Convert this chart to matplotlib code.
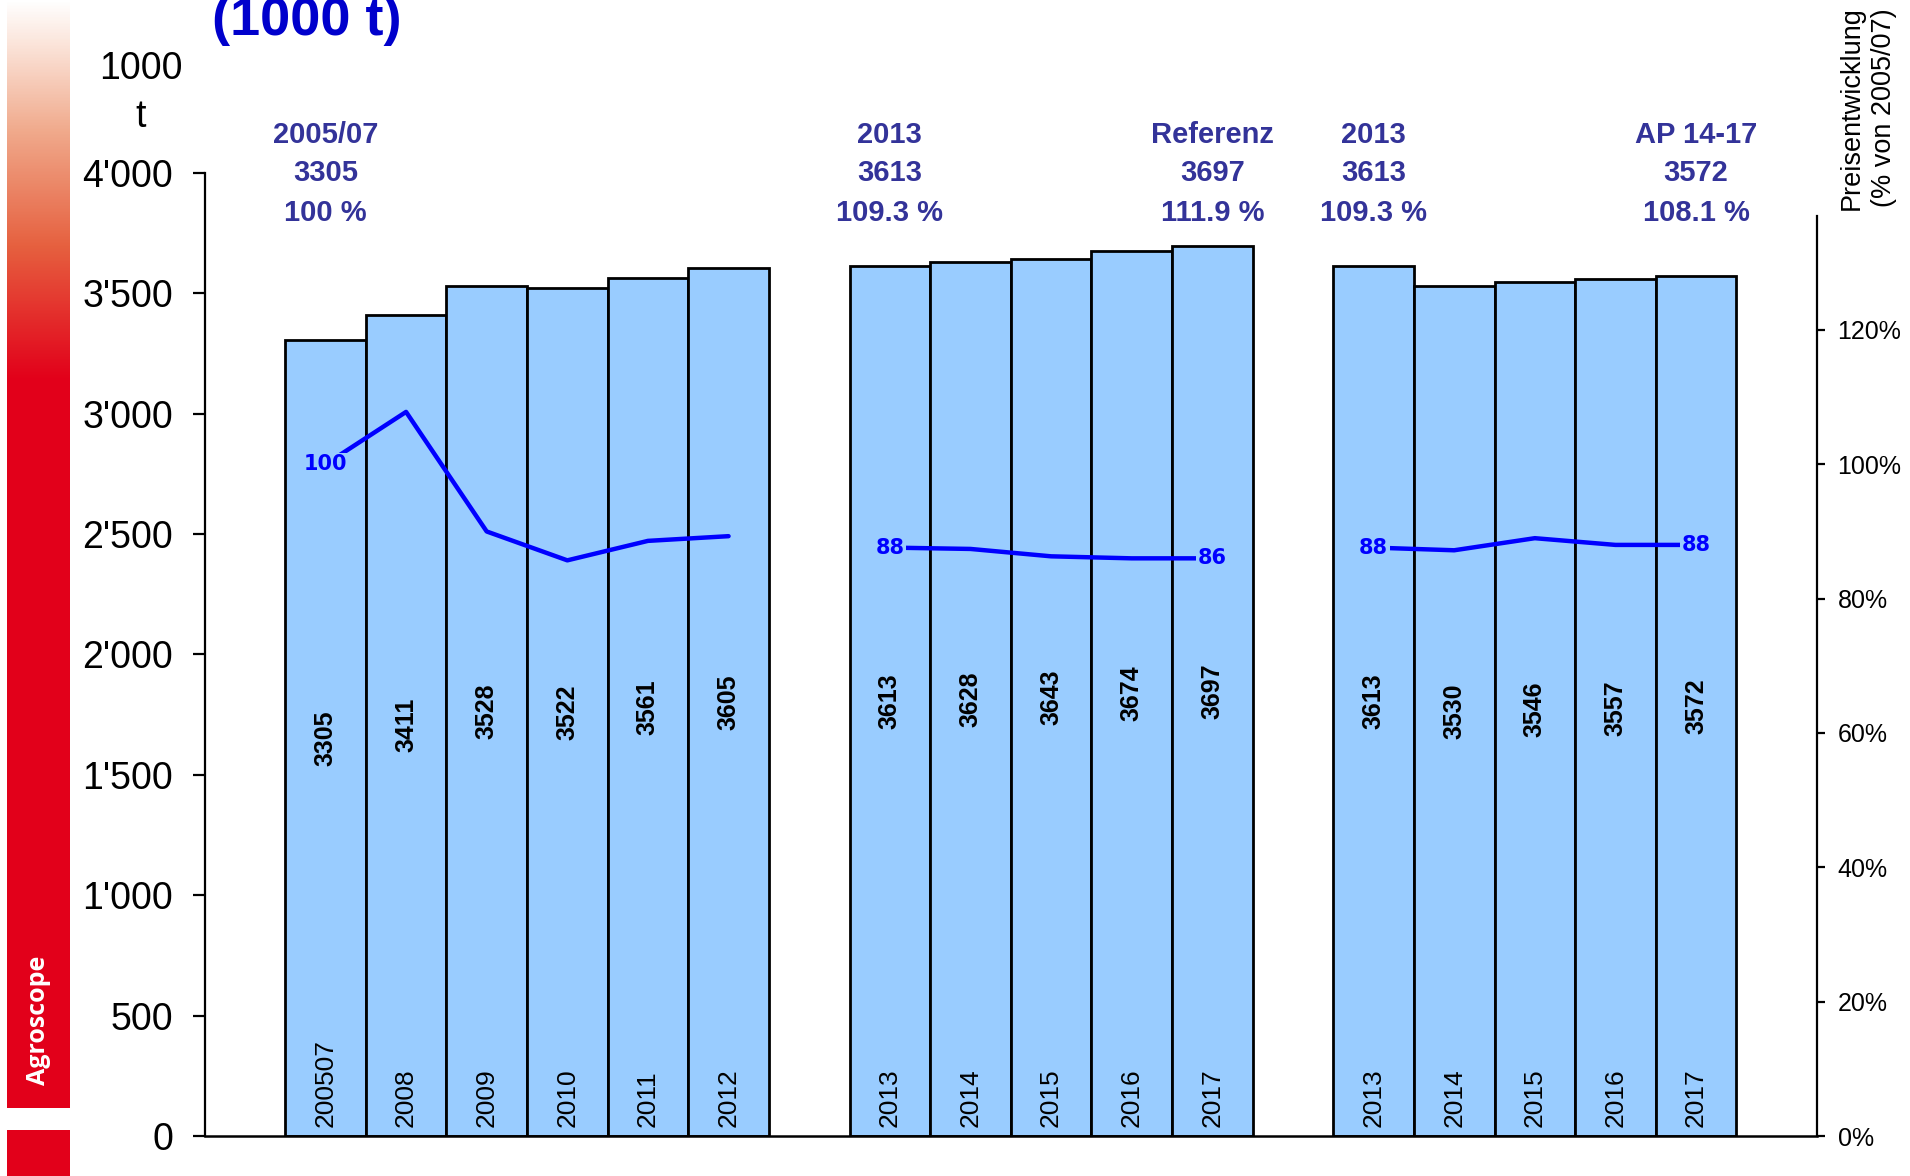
import matplotlib
matplotlib.use("Agg")
from matplotlib import pyplot as plt
from matplotlib.colors import LinearSegmentedColormap
import numpy as np

plt.rcParams['font.family'] = ['Liberation Sans', 'DejaVu Sans']

# Daten
years1 = ['200507', '2008', '2009', '2010', '2011', '2012']
prod1 = [3305, 3411, 3528, 3522, 3561, 3605]
price1 = [100, 107.8, 90.0, 85.7, 88.6, 89.3]

years2 = ['2013', '2014', '2015', '2016', '2017']
prod2 = [3613, 3628, 3643, 3674, 3697]
price2 = [87.6, 87.4, 86.3, 86.0, 86.0]

years3 = ['2013', '2014', '2015', '2016', '2017']
prod3 = [3613, 3530, 3546, 3557, 3572]
price3 = [87.6, 87.2, 89.0, 88.0, 88.0]

head_labels = ['2005/07', '2013', 'Referenz', '2013', 'AP 14-17']
head_values = ['3305', '3613', '3697', '3613', '3572']
head_pct = ['100 %', '109.3 %', '111.9 %', '109.3 %', '108.1 %']

left_ticks = [0, 500, 1000, 1500, 2000, 2500, 3000, 3500, 4000]
right_ticks = [0, 20, 40, 60, 80, 100, 120]

BAR = '#99CCFF'
HEAD = '#333399'

fig = plt.figure(figsize=(19.1, 11.76), dpi=100)

# Agroscope Balken links
side = fig.add_axes([7 / 1910, 1 - 1108 / 1176, 63 / 1910, 1108 / 1176])
cmap = LinearSegmentedColormap.from_list('agro', [(0, '#FFFFFF'), (0.12, '#FBE3D8'), (0.35, '#F0A88A'),
                                                  (0.65, '#E6603F'), (1.0, '#E2001A')])
grad = np.linspace(0, 1, 380)
col = np.ones(1108)
col[:380] = grad
side.imshow(col[:, None], aspect='auto', cmap=cmap, vmin=0, vmax=1, extent=[0, 1, 1108, 0])
side.set_xlim(0, 1)
side.set_ylim(1108, 0)
side.axis('off')
side.text(0.5, 1020, 'Agroscope', rotation=90, ha='center', va='center', color='white',
          fontsize=18, fontweight='bold', family=['Open Sans', 'DejaVu Sans'])
foot = fig.add_axes([7 / 1910, 0, 63 / 1910, 46 / 1176])
foot.set_facecolor('#E2001A')
foot.set_xticks([])
foot.set_yticks([])
for s in foot.spines.values():
    s.set_visible(False)

ax = fig.add_axes([204.5 / 1910, 40 / 1176, 1612.5 / 1910, 963.3 / 1176])
ax2 = ax.twinx()

x1 = np.arange(0, 6)
x2 = np.arange(7, 12)
x3 = np.arange(13, 18)

for xs, ps, ys in [(x1, prod1, years1), (x2, prod2, years2), (x3, prod3, years3)]:
    ax.bar(xs, ps, width=1.0, color=BAR, edgecolor='black', linewidth=2.0, zorder=2)
    for xx, p, yy in zip(xs, ps, ys):
        ax.text(xx, p / 2, str(p), rotation=90, ha='center', va='center',
                fontsize=18, fontweight='bold', color='black', zorder=3)
        ax.text(xx, 37, yy, rotation=90, ha='center', va='bottom', fontsize=19, color='black', zorder=3)

ax.set_xlim(-1.5, 18.5)
ax.set_ylim(0, 4000)
ax.set_yticks(left_ticks)
ax.set_yticklabels([f"{v:,}".replace(',', "'") for v in left_ticks], fontsize=27)
ax.set_xticks([])
ax.tick_params(axis='y', length=8.6, width=1.6, pad=14)
ax.spines['top'].set_visible(False)
ax.spines['right'].set_visible(False)
ax.spines['left'].set_linewidth(1.6)
ax.spines['bottom'].set_linewidth(1.8)

# Kopfzeilen
head_x = [x1[0], x2[0], x2[-1], x3[0], x3[-1]]
for hx, a, b, c in zip(head_x, head_labels, head_values, head_pct):
    for yy, t in [(4158, a), (4000, b), (3834, c)]:
        ax.text(hx, yy, t, ha='center', va='center', fontsize=21, fontweight='bold',
                color=HEAD, clip_on=False)

# Preislinie
for xs, pr in [(x1, price1), (x2, price2), (x3, price3)]:
    ax2.plot(xs, pr, color='#0000FF', linewidth=3.2, solid_capstyle='round', zorder=4)

lab_pts = [(x1[0], price1[0]), (x2[0], price2[0]), (x2[-1], price2[-1]),
           (x3[0], price3[0]), (x3[-1], price3[-1])]
for lx, lv in lab_pts:
    ax2.text(lx, lv, f"{lv:.0f}", ha='center', va='center', fontsize=15, fontweight='bold',
             color='#0000FF', family='DejaVu Sans', zorder=5,
             bbox=dict(facecolor=BAR, edgecolor='none', pad=1.0))

ax2.set_ylim(0, 963.3 / 6.717)
ax2.set_yticks(right_ticks)
ax2.set_yticklabels([f"{v}%" for v in right_ticks], fontsize=18)
ax2.tick_params(axis='y', length=5.8, width=1.6, pad=9)
for s in ['top', 'left', 'bottom']:
    ax2.spines[s].set_visible(False)
ax2.spines['right'].set_linewidth(1.6)
ax2.spines['right'].set_bounds(0, 137)

fig.text(1868 / 1910, 1 - 108 / 1176, 'Preisentwicklung\n(% von 2005/07)', rotation=90,
         ha='center', va='center', fontsize=19.5, linespacing=1.3, multialignment='center')
fig.text(141 / 1910, 1 - 93 / 1176, '1000\nt', ha='center', va='center', fontsize=27,
         linespacing=1.4, multialignment='center')
fig.text(307 / 1910, 1 - 35 / 1176, '(1000 t)', ha='center', va='baseline', fontsize=39,
         fontweight='bold', color='#0000CC')

fig.savefig('out.png', dpi=100)
